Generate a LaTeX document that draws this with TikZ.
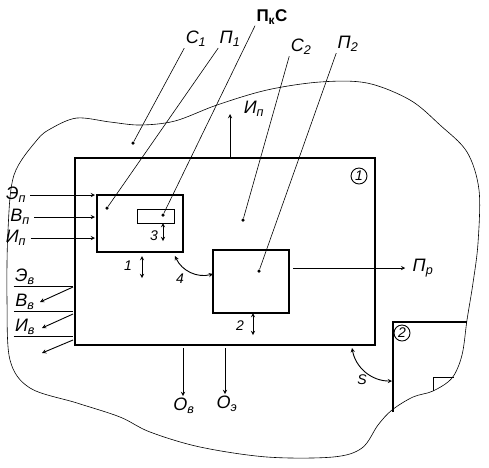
\documentclass[tikz,border=0pt]{standalone}
\usepackage{fontspec}
\setmainfont{Liberation Sans}
\tikzset{
  blk/.style={draw,line width=1.3pt,inner sep=0pt,outer sep=0pt},
  lbl/.style={font=\fontsize{18}{20}\selectfont\itshape},
  num/.style={font=\fontsize{14}{16}\selectfont\itshape},
  dot/.style={circle,fill,inner sep=0pt,minimum size=3.5pt,outer sep=0pt},
  leader/.style={line width=0.6pt},
  flow/.style={->,line width=0.9pt}
}
\begin{document}
\begin{tikzpicture}[x=1pt,y=-1pt,>=stealth,
 every node/.style={inner sep=0pt,outer sep=1.5pt}]
  \useasboundingbox (0,0) rectangle (489,467);
  % outer environment
  \draw[line width=0.6pt] plot[smooth cycle,tension=0.55] coordinates {
    (37,140) (14,175) (8,230) (7,300) (10,360) (30,388) (77,403) (120,417)
    (150,432) (200,447) (267,457) (333,457) (362,448) (378,425) (392,410)
    (413,397) (433,391) (452,378) (462,355) (467,320) (473,283) (478,243)
    (479,190) (467,152) (440,125) (410,100) (367,83) (320,82) (267,90)
    (217,105) (175,121) (140,125) (110,122) (77,118) (52,128)};
  % system 1 and its parts
  \node[blk,line width=1.6pt,minimum width=300pt,minimum height=187pt] (sys1) at (225,251.5) {};
  \node[blk,minimum width=86pt,minimum height=57pt] (p1) at (140,223.5) {};
  \node[blk,line width=1pt,minimum width=37pt,minimum height=14pt] (pkc) at (155.5,216) {};
  \node[blk,minimum width=76pt,minimum height=63pt] (p2) at (251,281.5) {};
  \node[circle,draw,line width=0.9pt,minimum size=16pt,num] (c1) at (359,176) {1};
  % system 2
  \draw[line width=1.3pt] (393,412) -- (393,322) -- (467,322);
  \draw[line width=0.9pt] (433,391) -- (433,377) -- (454,377);
  \node[circle,draw,line width=0.9pt,minimum size=16pt,num] (c2) at (402,333) {2};
  % dots and leaders
  \node[dot] (dC1) at (133,143) {};
  \node[dot] (dP1) at (107,208) {};
  \node[dot] (dPkC) at (163,215) {};
  \node[dot] (dC2) at (243,220) {};
  \node[dot] (dP2) at (259,271) {};
  \node[lbl] (lC1) at (196,39) {С\textsubscript{1}};
  \node[lbl] (lP1) at (230,39) {П\textsubscript{1}};
  \node[lbl,font=\fontsize{17}{19}\selectfont\bfseries] (lPkC) at (272,17) {П\textsubscript{к}С};
  \node[lbl] (lC2) at (301,47) {С\textsubscript{2}};
  \node[lbl] (lP2) at (348,44) {П\textsubscript{2}};
  \draw[leader] (lC1.south west) -- (dC1);
  \draw[leader] (lP1.south west) -- (dP1);
  \draw[leader] (lPkC.south west) -- (dPkC);
  \draw[leader] (lC2.south west) -- (dC2);
  \draw[leader] (lP2.south west) -- (dP2);
  % inputs
  \node[lbl] (Ep) at (16,195) {Э\textsubscript{п}};
  \node[lbl] (Bp) at (20,217) {В\textsubscript{п}};
  \node[lbl] (Ip) at (16,238) {И\textsubscript{п}};
  \foreach \n in {Ep,Bp,Ip}
    \draw[flow,shorten <=3pt,shorten >=2pt] (\n.east) -- (\n.east -| p1.west);
  % outputs
  \node[lbl] (Eb) at (25,277) {Э\textsubscript{в}};
  \node[lbl] (Bb) at (25,302) {В\textsubscript{в}};
  \node[lbl] (Ib) at (25,327) {И\textsubscript{в}};
  \coordinate (eb0) at (73,287); \coordinate (eb1) at (40,302);
  \coordinate (bb0) at (73,314); \coordinate (bb1) at (42,328);
  \coordinate (ib0) at (73,340); \coordinate (ib1) at (42,353);
  \draw[line width=0.9pt] (Eb.south west) -- (Eb.south west -| eb0);
  \draw[line width=0.9pt] (Bb.south west) -- (Bb.south west -| bb0);
  \draw[line width=0.9pt] (Ib.south west) -- (Ib.south west -| ib0);
  \draw[flow] (eb0) -- (eb1);
  \draw[flow] (bb0) -- (bb1);
  \draw[flow] (ib0) -- (ib1);
  % information up, result right, outputs down
  \node[lbl] (Un) at (254,109) {И\textsubscript{п}};
  \coordinate (un) at (230,114);
  \draw[flow] (un |- sys1.north) -- (un);
  \node[lbl] (Pr) at (423,268) {П\textsubscript{р}};
  \draw[flow,shorten <=4pt,shorten >=6pt] (p2.east |- Pr.west) -- (Pr.west);
  \node[lbl] (Ob) at (184,406) {О\textsubscript{в}};
  \node[lbl] (Oe) at (227,404) {О\textsubscript{э}};
  \coordinate (ob) at (183,396); \coordinate (oe) at (225,394);
  \draw[flow,shorten <=3pt] (ob |- sys1.south) -- (ob);
  \draw[flow,shorten <=3pt] (oe |- sys1.south) -- (oe);
  % links
  \draw[<->,line width=0.9pt] ([xshift=2pt,yshift=-4pt]p1.south) -- ++(0,22);
  \node[num] (n1) at (128,266) {1};
  \draw[<->,line width=0.9pt] ([xshift=2pt]p2.south) -- ++(0,22);
  \node[num] (n2) at (240,326) {2};
  \draw[<->,line width=0.9pt] (dPkC |- pkc.south) -- ++(0,18);
  \node[num] (n3) at (154,236) {3};
  \draw[<->,line width=0.9pt] ([xshift=-8pt,yshift=-4pt]p1.south east) to[bend right=40] ([yshift=7.5pt]p2.west);
  \node[num] (n4) at (180,279) {4};
  \coordinate (s1) at (352,348); \coordinate (s2) at (392,381);
  \draw[<->,line width=0.9pt] (s1) to[bend right=40] (s2);
  \node[num] (ns) at (362,380) {S};
\end{tikzpicture}
\end{document}
